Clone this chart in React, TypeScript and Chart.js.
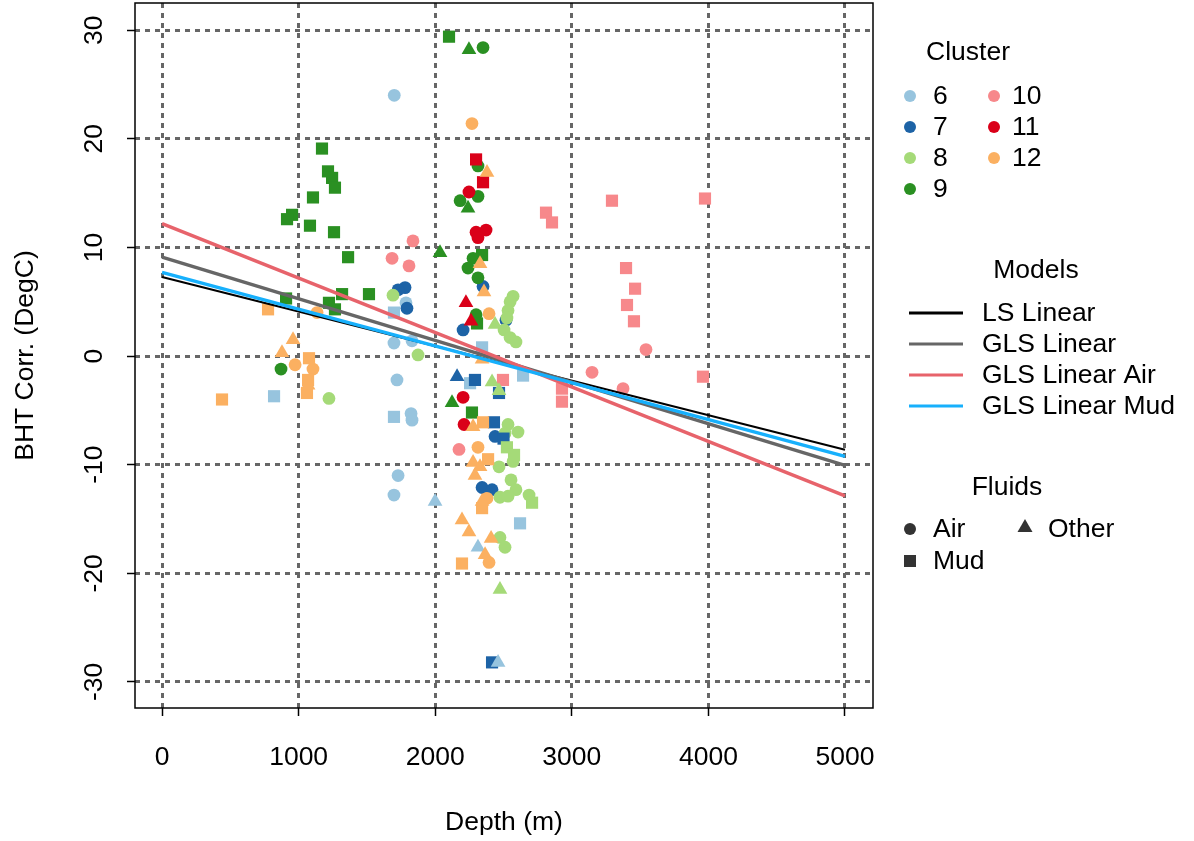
import React, { useEffect, useRef } from "react";
import { Chart, registerables } from "chart.js";

Chart.register(...registerables);

const FONT = "'Liberation Sans', Arial, Helvetica, sans-serif";
const FS = 26.5;

// Axis ticks
const xTicks = [0, 1000, 2000, 3000, 4000, 5000];
const yTicks = [-30, -20, -10, 0, 10, 20, 30];

// Cluster ids and colours
const clusters = ["6", "7", "8", "9", "10", "11", "12"];
const clusterColors = ["#97c4de", "#1d63a6", "#a5da78", "#2a9022", "#f7888b", "#da0019", "#fbb061"];

// Points per cluster: [depth m, BHT corr degC]
const c6Air = [[1700, 24.0], [1698, 1.2], [1830, 1.4], [1786, 4.9], [1720, -2.2], [1823, -5.3], [1830, -5.9], [1728, -11.0], [1698, -12.8]];
const c6Mud = [[1698, 4.0], [820, -3.7], [1698, -5.6], [2343, 0.8], [2255, -2.5], [2643, -1.8], [2621, -15.4]];
const c6Other = [[1999, -13.4], [2313, -17.6], [2460, -28.2]];

const c7Air = [[1779, 6.3], [1728, 6.1], [1793, 4.4], [2350, 6.4], [2204, 2.4], [2518, 3.3], [2438, -7.4], [2343, -12.1], [2416, -12.3]];
const c7Mud = [[2291, -2.2], [2467, -3.4], [2430, -6.1], [2500, -7.6], [2416, -28.2]];
const c7Other = [[2160, -1.9]];

const c8Air = [[1691, 5.6], [1874, 0.1], [1222, -3.9], [2570, 5.5], [2548, 5.0], [2533, 4.2], [2525, 3.5], [2504, 2.4], [2548, 1.7], [2591, 1.3], [2533, -6.3], [2606, -7.0], [2511, -7.1], [2570, -9.7], [2467, -10.2], [2555, -11.4], [2591, -12.3], [2474, -13.0], [2533, -12.9], [2687, -12.8], [2474, -16.7], [2511, -17.6]];
const c8Mud = [[2525, -8.4], [2577, -9.1], [2709, -13.5]];
const c8Other = [[2438, 2.9], [2416, -2.4], [2467, -3.2], [2474, -21.5]];

const c9Air = [[2350, 28.4], [2313, 17.5], [2182, 14.3], [2313, 14.7], [2277, 9.0], [2240, 8.1], [2313, 7.2], [2299, 3.8], [871, -1.2]];
const c9Mud = [[1171, 19.1], [1215, 17.0], [1245, 16.4], [1266, 15.5], [1105, 14.6], [952, 13.0], [915, 12.6], [1083, 12.0], [1259, 11.4], [1362, 9.1], [1318, 5.7], [1515, 5.7], [908, 5.3], [1222, 4.9], [1266, 4.3], [2101, 29.4], [2343, 9.3], [2306, 3.0], [2269, -5.2]];
const c9Other = [[2247, 28.2], [2240, 13.6], [2035, 9.5], [2123, -4.3]];

const c10Air = [[1837, 10.6], [1684, 9.0], [1808, 8.3], [3543, 0.6], [3148, -1.5], [3375, -3.0], [2174, -8.6]];
const c10Mud = [[2811, 13.2], [2855, 12.3], [3294, 14.3], [3397, 8.1], [3463, 6.2], [3404, 4.7], [3455, 3.2], [3975, 14.5], [3960, -1.9], [2496, -2.2], [2928, -3.0], [2928, -4.2]];
const c10Other: number[][] = [];

const c11Air = [[2247, 15.1], [2299, 11.4], [2372, 11.6], [2313, 10.9], [2204, -3.8], [2211, -6.3]];
const c11Mud = [[2299, 18.1], [2350, 16.0]];
const c11Other = [[2225, 4.9], [2262, 3.2]];

const c12Air = [[2269, 21.4], [974, -0.8], [1105, -1.2], [1135, 4.0], [2394, 3.9], [2313, -8.4], [2379, -13.1], [2394, -19.0]];
const c12Mud = [[776, 4.3], [439, -4.0], [1076, -0.2], [1069, -2.2], [1061, -3.4], [2350, -6.1], [2387, -9.5], [2343, -14.0], [2196, -19.1]];
const c12Other = [[959, 1.5], [878, 0.3], [1069, -2.7], [2379, 16.9], [2328, 8.5], [2357, 5.9], [2343, -0.3], [2277, -6.5], [2277, -9.8], [2328, -10.2], [2291, -11.0], [2343, -13.4], [2196, -15.1], [2247, -16.2], [2409, -16.8], [2365, -18.3]];

const airPts = [c6Air, c7Air, c8Air, c9Air, c10Air, c11Air, c12Air];
const mudPts = [c6Mud, c7Mud, c8Mud, c9Mud, c10Mud, c11Mud, c12Mud];
const otherPts = [c6Other, c7Other, c8Other, c9Other, c10Other, c11Other, c12Other];

// Model lines: value at depth 0 and at depth 5000
const modelNames = ["LS Linear", "GLS Linear", "GLS Linear Air", "GLS Linear Mud"];
const modelColors = ["#000000", "#666666", "#e7636b", "#17b0fc"];
const modelWidths = [2, 3.5, 3.5, 3.5];
const lineDepths = [0, 5000];
const lsLinear = [7.27, -8.62];
const glsLinear = [9.1, -10.06];
const glsAir = [12.2, -12.87];
const glsMud = [7.7, -9.24];
const modelValues = [lsLinear, glsLinear, glsAir, glsMud];

const fluidNames = ["Air", "Mud", "Other"];

function buildDatasets() {
  const ds: any[] = [];
  for (let m = modelNames.length - 1; m >= 0; m--) {
    ds.push({
      type: "line",
      label: modelNames[m],
      data: lineDepths.map((d, i) => ({ x: d, y: modelValues[m][i] })),
      borderColor: modelColors[m],
      borderWidth: modelWidths[m],
      pointRadius: 0,
      fill: false,
    });
  }
  const groups = [
    { pts: otherPts, style: "triangle", r: 8.5 },
    { pts: mudPts, style: "rect", r: 8.6 },
    { pts: airPts, style: "circle", r: 6.4 },
  ];
  groups.forEach((g) => {
    for (let c = clusters.length - 1; c >= 0; c--) {
      ds.push({
        type: "scatter",
        label: clusters[c],
        data: g.pts[c].map((p) => ({ x: p[0], y: p[1] })),
        pointStyle: g.style,
        pointRadius: g.r,
        backgroundColor: clusterColors[c],
        borderColor: clusterColors[c],
        borderWidth: 0,
      });
    }
  });
  return ds;
}

const decorPlugin = {
  id: "decor",
  afterDraw(chart: any) {
    const ctx = chart.ctx;
    const a = chart.chartArea;
    const ys = chart.scales.y;
    ctx.save();
    ctx.strokeStyle = "#000";
    ctx.lineWidth = 1.5;
    ctx.setLineDash([]);
    ctx.strokeRect(a.left, a.top, a.right - a.left, a.bottom - a.top);
    ctx.fillStyle = "#000";
    ctx.font = `${FS}px ${FONT}`;
    ctx.textAlign = "center";
    ctx.textBaseline = "middle";
    yTicks.forEach((v) => {
      const py = ys.getPixelForValue(v);
      ctx.save();
      ctx.translate(95, py);
      ctx.rotate(-Math.PI / 2);
      ctx.fillText(String(v), 0, 0);
      ctx.restore();
    });
    ctx.fillText("Depth (m)", (a.left + a.right) / 2, 823);
    ctx.save();
    ctx.translate(26, (a.top + a.bottom) / 2);
    ctx.rotate(-Math.PI / 2);
    ctx.fillText("BHT Corr. (DegC)", 0, 0);
    ctx.restore();

    // Legend: Cluster
    ctx.textAlign = "center";
    ctx.fillText("Cluster", 968, 53);
    ctx.textAlign = "left";
    const rows = [96, 127, 158, 189];
    clusters.forEach((cl, i) => {
      const col = i < 4 ? 0 : 1;
      const row = i < 4 ? i : i - 4;
      const mx = col === 0 ? 910 : 994;
      const tx = col === 0 ? 933 : 1012;
      ctx.fillStyle = clusterColors[i];
      ctx.beginPath();
      ctx.arc(mx, rows[row], 6, 0, Math.PI * 2);
      ctx.fill();
      ctx.fillStyle = "#000";
      ctx.fillText(cl, tx, rows[row] + 1);
    });

    // Legend: Models
    ctx.textAlign = "center";
    ctx.fillText("Models", 1036, 271);
    ctx.textAlign = "left";
    const mrows = [313, 344, 375, 406];
    modelNames.forEach((nm, i) => {
      ctx.strokeStyle = modelColors[i];
      ctx.lineWidth = 3;
      ctx.beginPath();
      ctx.moveTo(909, mrows[i]);
      ctx.lineTo(963, mrows[i]);
      ctx.stroke();
      ctx.fillStyle = "#000";
      ctx.fillText(nm, 982, mrows[i] + 1);
    });

    // Legend: Fluids
    ctx.textAlign = "center";
    ctx.fillText("Fluids", 1007, 488);
    ctx.textAlign = "left";
    ctx.fillStyle = "#333";
    ctx.beginPath();
    ctx.arc(910, 529, 6, 0, Math.PI * 2);
    ctx.fill();
    ctx.fillRect(904, 555, 12, 12);
    ctx.beginPath();
    ctx.moveTo(1025, 519);
    ctx.lineTo(1032.5, 532);
    ctx.lineTo(1017.5, 532);
    ctx.closePath();
    ctx.fill();
    ctx.fillStyle = "#000";
    ctx.fillText(fluidNames[0], 933, 530);
    ctx.fillText(fluidNames[1], 933, 562);
    ctx.fillText(fluidNames[2], 1048, 530);
    ctx.restore();
  },
};

export default function App() {
  const ref = useRef<HTMLCanvasElement | null>(null);
  useEffect(() => {
    if (!ref.current) return;
    const chart = new Chart(ref.current, {
      type: "scatter",
      data: { datasets: buildDatasets() },
      options: {
        animation: false,
        responsive: false,
        devicePixelRatio: 1,
        layout: { autoPadding: false, padding: { left: 0, top: 3, right: 321, bottom: 0 } },
        plugins: { legend: { display: false }, tooltip: { enabled: false } },
        scales: {
          x: {
            type: "linear",
            min: -198,
            max: 5205,
            afterFit: (s: any) => {
              s.height = 133;
            },
            afterBuildTicks: (s: any) => {
              s.ticks = xTicks.map((v) => ({ value: v }));
            },
            ticks: {
              color: "#000",
              font: { family: FONT, size: FS },
              padding: 26,
              maxRotation: 0,
              minRotation: 0,
              callback: (v: any) => String(v),
            },
            grid: {
              color: "#666666",
              lineWidth: 3,
              drawTicks: true,
              tickLength: 8,
              tickColor: "#000",
              tickWidth: 1.5,
              tickBorderDash: [],
            },
            border: { display: false, dash: [5, 5] },
          },
          y: {
            type: "linear",
            min: -32.4,
            max: 32.5,
            afterFit: (s: any) => {
              s.width = 135;
            },
            afterBuildTicks: (s: any) => {
              s.ticks = yTicks.map((v) => ({ value: v }));
            },
            ticks: { display: false },
            grid: {
              color: "#666666",
              lineWidth: 3,
              drawTicks: true,
              tickLength: 8,
              tickColor: "#000",
              tickWidth: 1.5,
              tickBorderDash: [],
            },
            border: { display: false, dash: [5, 5] },
          },
        },
      },
      plugins: [decorPlugin],
    });
    return () => chart.destroy();
  }, []);
  return (
    <div style={{ position: "fixed", left: 0, top: 0, width: 1194, height: 841, background: "#fff" }}>
      <canvas ref={ref} width={1194} height={841} style={{ width: 1194, height: 841 }} />
    </div>
  );
}
